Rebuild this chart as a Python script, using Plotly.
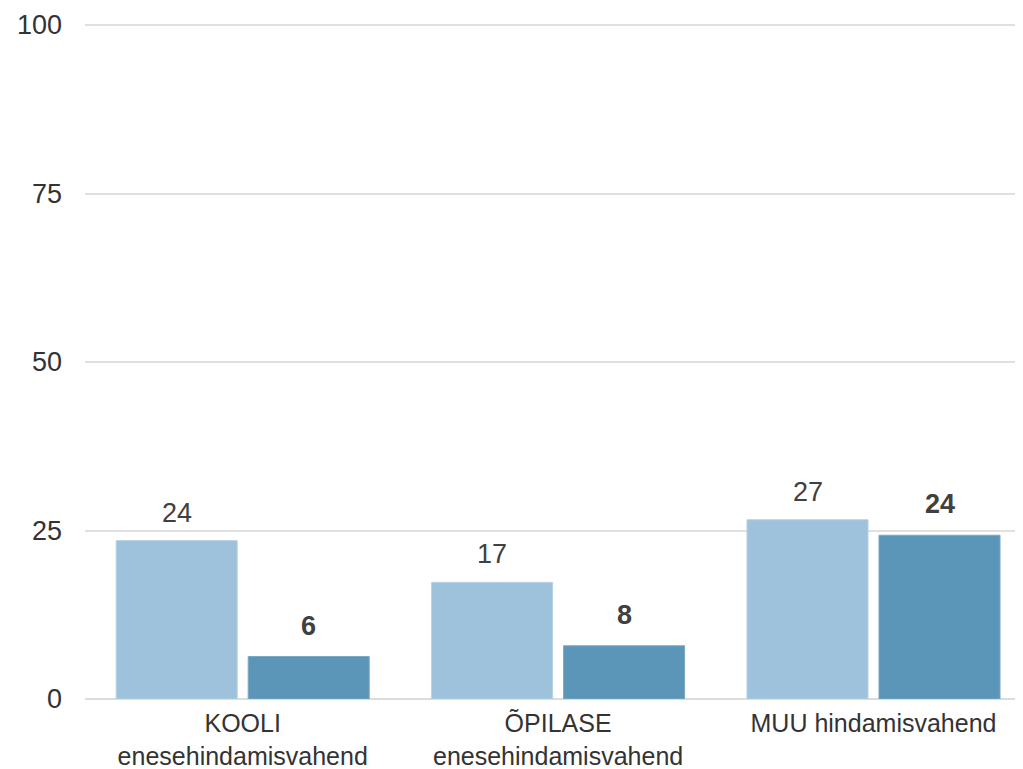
import plotly.graph_objects as go

categories = ["KOOLI<br>enesehindamisvahend", "ÕPILASE<br>enesehindamisvahend", "MUU hindamisvahend"]
series_a = [23.5, 17.3, 26.6]
series_b = [6.3, 7.9, 24.3]
labels_a = ["24", "17", "27"]
labels_b = ["6", "8", "24"]
y_ticks = [0, 25, 50, 75, 100]

light = "#9ec2db"
dark = "#5b95b8"
txt = "#404040"
FONT = "Liberation Sans, Arial, sans-serif"

fig = go.Figure()
fig.add_trace(go.Bar(x=categories, y=series_a, marker=dict(color=light, line=dict(width=1, color="#b6d2e6")), name="A"))
fig.add_trace(go.Bar(x=categories, y=series_b, marker=dict(color=dark, line=dict(width=1, color="#7aa9c6")), name="B"))

for i, c in enumerate(categories):
    fig.add_annotation(x=c, y=series_a[i], text=labels_a[i], xshift=-66, yshift=11, yanchor="bottom",
                       showarrow=False, font=dict(size=27, color=txt, family=FONT))
    fig.add_annotation(x=c, y=series_b[i], text="<b>" + labels_b[i] + "</b>", xshift=66, yshift=14, yanchor="bottom",
                       showarrow=False, font=dict(size=27, color=txt, family=FONT))

fig.update_layout(
    width=1015, height=761,
    margin=dict(l=77, r=0, t=15, b=70),
    plot_bgcolor="white", paper_bgcolor="white",
    barmode="group", bargap=0.163, bargroupgap=0.083,
    showlegend=False,
    font=dict(family=FONT, size=27, color="#333333"),
    xaxis=dict(range=[-0.5, 2.474], showgrid=False, showline=False, zeroline=False,
               ticks="outside", ticklen=2, tickcolor="rgba(0,0,0,0)", automargin=False,
               tickfont=dict(size=25, color="#333333", family=FONT)),
    yaxis=dict(range=[0, 100.3], tickvals=y_ticks, showgrid=True, gridcolor="#e0e0e0", gridwidth=2,
               zeroline=True, zerolinecolor="#dcdcdc", zerolinewidth=2, showline=False,
               ticks="", ticklabelstandoff=22, automargin=False,
               tickfont=dict(size=27, color="#333333", family=FONT)),
)

fig.write_html("out.html")
